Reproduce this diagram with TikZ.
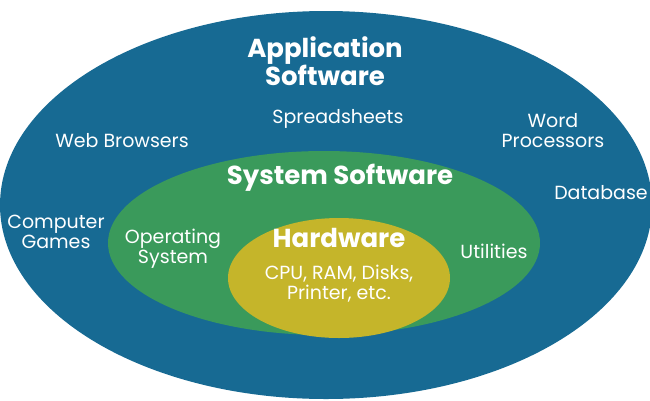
\documentclass[tikz,border=0pt]{standalone}
\usepackage{fontspec}
\setmainfont{Poppins}
\definecolor{outerc}{HTML}{176A93}
\definecolor{midc}{HTML}{3A9A5B}
\definecolor{innerc}{HTML}{C5B52A}
\begin{document}
\begin{tikzpicture}[x=1pt,y=-1pt,
  lbl/.style={text=white,font=\fontsize{19}{20}\selectfont,align=center},
  ttl/.style={text=white,font=\bfseries\fontsize{26}{28}\selectfont,align=center}]
\useasboundingbox (0,0) rectangle (650,400);
\fill[white] (0,0) rectangle (650,400);
\fill[outerc] (326,205) ellipse [x radius=326, y radius=194];
\fill[midc] (324,243) ellipse [x radius=216, y radius=92];
\fill[innerc] (339,278) ellipse [x radius=111, y radius=60];
\node[ttl] (app) at (325,61) {Application\\Software};
\node[lbl] (web) at (122,141) {Web Browsers};
\node[lbl] (spr) at (338,119) {Spreadsheets};
\node[lbl] (wp) at (553,131) {Word\\Processors};
\node[lbl] (db) at (601,193) {Database};
\node[lbl] (cg) at (56,232) {Computer\\Games};
\node[ttl] (sys) at (340,178) {System Software};
\node[lbl] (os) at (173,249) {Operating\\System};
\node[lbl] (ut) at (494,251) {Utilities};
\node[ttl] (hw) at (339,238) {Hardware};
\node[lbl] (cpu) at (339,284) {CPU, RAM, Disks,\\Printer, etc.};
\end{tikzpicture}
\end{document}
